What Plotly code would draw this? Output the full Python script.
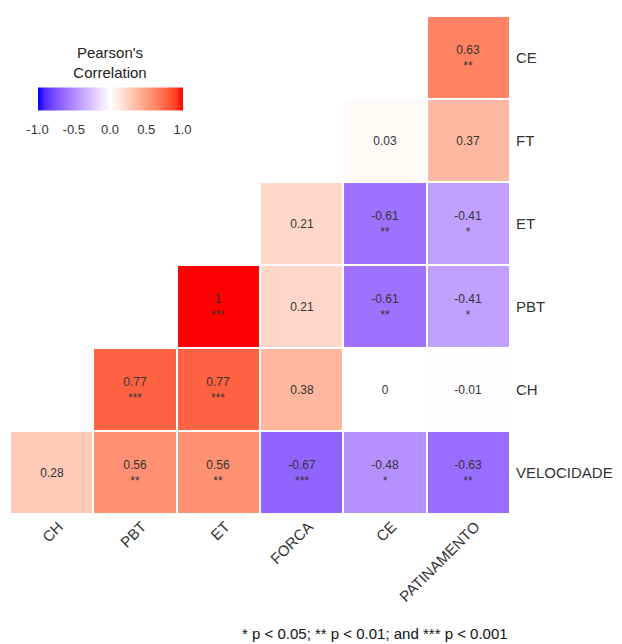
import plotly.graph_objects as go
import numpy as np

x_labels = ["CH", "PBT", "ET", "FORCA", "CE", "PATINAMENTO"]
y_labels = ["VELOCIDADE", "CH", "PBT", "ET", "FT", "CE"]  # bottom to top

r_velocidade = [0.28, 0.56, 0.56, -0.67, -0.48, -0.63]
r_ch = [None, 0.77, 0.77, 0.38, 0, -0.01]
r_pbt = [None, None, 1, 0.21, -0.61, -0.41]
r_et = [None, None, None, 0.21, -0.61, -0.41]
r_ft = [None, None, None, None, 0.03, 0.37]
r_ce = [None, None, None, None, None, 0.63]

s_velocidade = ["", "**", "**", "***", "*", "**"]
s_ch = ["", "***", "***", "", "", ""]
s_pbt = ["", "", "***", "", "**", "*"]
s_et = ["", "", "", "", "**", "*"]
s_ft = ["", "", "", "", "", ""]
s_ce = ["", "", "", "", "", "**"]

z = [r_velocidade, r_ch, r_pbt, r_et, r_ft, r_ce]
stars = [s_velocidade, s_ch, s_pbt, s_et, s_ft, s_ce]

text = []
for row, srow in zip(z, stars):
    trow = []
    for v, s in zip(row, srow):
        if v is None:
            trow.append("")
        else:
            lab = f"{v:g}"
            trow.append(lab + ("<br>" + s if s else ""))
    text.append(trow)

# Lab-space gradient (like ggplot2 scale_fill_gradient2)
def srgb_to_lin(c):
    c = c / 255.0
    return np.where(c <= 0.04045, c / 12.92, ((c + 0.055) / 1.055) ** 2.4)

def lin_to_srgb(c):
    c = np.clip(c, 0, 1)
    return np.where(c <= 0.0031308, 12.92 * c, 1.055 * c ** (1 / 2.4) - 0.055) * 255

M = np.array([[0.4124, 0.3576, 0.1805], [0.2126, 0.7152, 0.0722], [0.0193, 0.1192, 0.9505]])
Minv = np.linalg.inv(M)
wp = np.array([0.95047, 1.0, 1.08883])

def f(t):
    return np.where(t > (6 / 29) ** 3, np.cbrt(t), t / (3 * (6 / 29) ** 2) + 4 / 29)

def finv(t):
    return np.where(t > 6 / 29, t ** 3, 3 * (6 / 29) ** 2 * (t - 4 / 29))

def to_lab(rgb):
    xyz = M @ srgb_to_lin(np.array(rgb, float)) / wp
    fx, fy, fz = f(xyz)
    return np.array([116 * fy - 16, 500 * (fx - fy), 200 * (fy - fz)])

def from_lab(lab):
    L, a, b = lab
    fy = (L + 16) / 116
    fx = fy + a / 500
    fz = fy - b / 200
    xyz = np.array([finv(fx), finv(fy), finv(fz)]) * wp
    return lin_to_srgb(Minv @ xyz)

lab_b, lab_w, lab_r = to_lab([0, 0, 255]), to_lab([255, 255, 255]), to_lab([255, 0, 0])
colorscale = []
n = 20
for i in range(n + 1):
    t = i / n
    if t <= 0.5:
        u = t / 0.5
        lab = lab_b + (lab_w - lab_b) * u
    else:
        u = (t - 0.5) / 0.5
        lab = lab_w + (lab_r - lab_w) * u
    rgb = from_lab(lab)
    colorscale.append([t, "rgb(%d,%d,%d)" % tuple(int(round(c)) for c in rgb)])

fig = go.Figure(go.Heatmap(
    x=x_labels, y=y_labels, z=z, text=text, texttemplate="%{text}",
    textfont=dict(size=12, color="#333333", family="Liberation Sans, Arial"),
    colorscale=colorscale, zmin=-1, zmax=1, xgap=2, ygap=2,
    hoverinfo="skip",
    colorbar=dict(
        orientation="h", x=0.2, xanchor="center", y=0.93, yanchor="top",
        len=145, lenmode="pixels", thickness=23, outlinewidth=0, xpad=0, ypad=0,
        tickvals=[-1, -0.5, 0, 0.5, 1], ticktext=["-1.0", "-0.5", "0.0", "0.5", "1.0"],
        ticks="outside", ticklen=8, tickcolor="rgba(0,0,0,0)",
        tickfont=dict(size=13, color="#333333"),
        title=dict(text="Pearson's<br>Correlation", side="top", font=dict(size=15, color="#222222")),
    ),
))

fig.update_layout(
    width=622, height=644,
    margin=dict(l=2, r=120, t=8, b=138, autoexpand=False),
    plot_bgcolor="white", paper_bgcolor="white",
    font=dict(family="Liberation Sans, Arial", color="#333333"),
    xaxis=dict(tickangle=-45, tickfont=dict(size=15, color="#333333"), showgrid=False,
               zeroline=False, ticks="", showline=False, ticklabelshift=7),
    yaxis=dict(side="right", tickfont=dict(size=15, color="#333333"), showgrid=False,
               zeroline=False, ticks="", showline=False, ticklabelstandoff=5),
    annotations=[dict(text="* p < 0.05; ** p < 0.01; and *** p < 0.001", xref="paper", yref="paper",
                      x=1.0, y=-0.239, xanchor="right", yanchor="middle", showarrow=False,
                      font=dict(size=15, color="#111111"))],
)

fig.write_html("out.html")
